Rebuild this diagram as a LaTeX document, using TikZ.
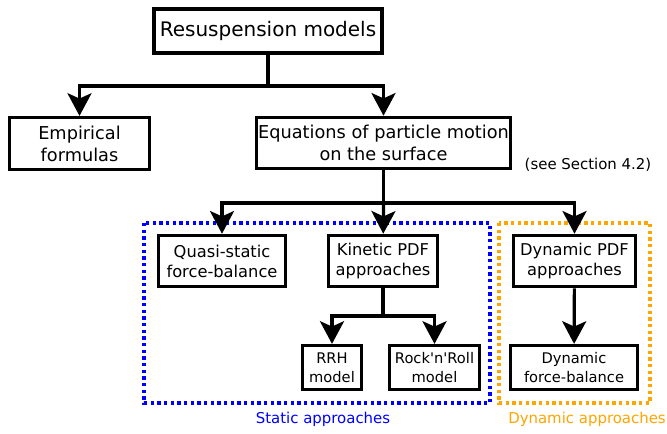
\documentclass[tikz,border=0pt]{standalone}
\usepackage{fontspec}
\setmainfont{DejaVu Sans}
\usetikzlibrary{arrows.meta}

\definecolor{statblue}{RGB}{0,0,255}
\definecolor{dynorange}{RGB}{255,165,0}

\newcommand{\sztop}{\fontsize{15}{18}\selectfont}
\newcommand{\sztwo}{\fontsize{13.3}{16.5}\selectfont}
\newcommand{\szthree}{\fontsize{12.2}{15}\selectfont}
\newcommand{\szfour}{\fontsize{11}{14.2}\selectfont}
\newcommand{\szlab}{\fontsize{11.2}{13}\selectfont}

\tikzset{
  box/.style={draw, line width=2.4pt, inner sep=0pt, align=center},
  arr/.style={-{Stealth[length=17pt,width=18pt,inset=4pt]}, line width=2.4pt},
  grp/.style={line width=2.4pt, dash pattern=on 2.5pt off 2.5pt},
}

\begin{document}
\begin{tikzpicture}[x=0.75pt,y=-0.75pt]
      \useasboundingbox (0,0) rectangle (667,434);
      %%%%%%%%%%%%%%%%%%%%%%%%%%%%%%%%%%%%%%%%%%%%%%%
      \node[box, font=\sztop, minimum width=171pt, minimum height=33pt] at (268,31) (res) {Resuspension models};
      %%%%%%%%%%%%%%%%%%%%%%%%%%%%%%%%%%%%%%%%%%%%%%%
      \node[box, font=\sztwo, minimum width=105pt, minimum height=39pt] at (79.5,143.5) (emp) {Empirical\\ formulas};
      \node[box, font=\sztwo, minimum width=190.5pt, minimum height=38.5pt] at (383.5,143) (eqn) {Equations of particle motion\\ on the surface};
      \node[font=\szlab] at (588,165) (sec) {(see Section 4.2)};
      \coordinate (j1) at (268,86);
      \draw[line width=2.4pt] (res) -- (j1);
      \draw[arr] (j1) -| (emp);
      \draw[arr] (j1) -| (eqn);
      %%%%%%%%%%%%%%%%%%%%%%%%%%%%%%%%%%%%%%%%%%%%%%%
      \draw[grp, statblue] (144,223) rectangle (490,403);
      \draw[grp, dynorange] (499,223) rectangle (650,403);
      \node[font=\szlab, text=statblue] at (323,419) (stat) {Static approaches};
      \node[font=\szlab, text=dynorange] at (587,419) (dyn) {Dynamic approaches};
      %%%%%%%%%%%%%%%%%%%%%%%%%%%%%%%%%%%%%%%%%%%%%%%
      \node[box, font=\szthree, fill=white, minimum width=95pt, minimum height=38.5pt] at (222,261) (qs) {Quasi-static\\ force-balance};
      \node[box, font=\szthree, fill=white, minimum width=82pt, minimum height=38.5pt] at (383,261) (kin) {Kinetic PDF\\ approaches};
      \node[box, font=\szthree, fill=white, minimum width=91.5pt, minimum height=38.5pt] at (574.5,261) (dpdf) {Dynamic PDF\\ approaches};
      \coordinate (j2) at (383.5,203);
      \draw[line width=2.4pt] (eqn) -- (j2);
      \draw[arr] (j2) -| (qs);
      \draw[arr] (j2) -- (kin);
      \draw[arr] (j2) -| (dpdf);
      %%%%%%%%%%%%%%%%%%%%%%%%%%%%%%%%%%%%%%%%%%%%%%%
      \node[box, font=\szfour, minimum width=44pt, minimum height=33pt] at (332,367.5) (rrh) {RRH\\ model};
      \node[box, font=\szfour, minimum width=67.5pt, minimum height=33pt] at (434.5,367.5) (rnr) {Rock\textquotesingle n\textquotesingle Roll\\ model};
      \node[box, font=\szfour, minimum width=95pt, minimum height=33pt] at (574,367.5) (dfb) {Dynamic\\ force-balance};
      \coordinate (j3) at (383,316);
      \draw[line width=2.4pt] (kin) -- (j3);
      \draw[arr] (j3) -| (rrh);
      \draw[arr] (j3) -| (rnr);
      \draw[arr] (dpdf) -- (dfb);
      %%%%%%%%%%%%%%%%%%%%%%%%%%%%%%%%%%%%%%%%%%%%%%%
\end{tikzpicture}
\end{document}
